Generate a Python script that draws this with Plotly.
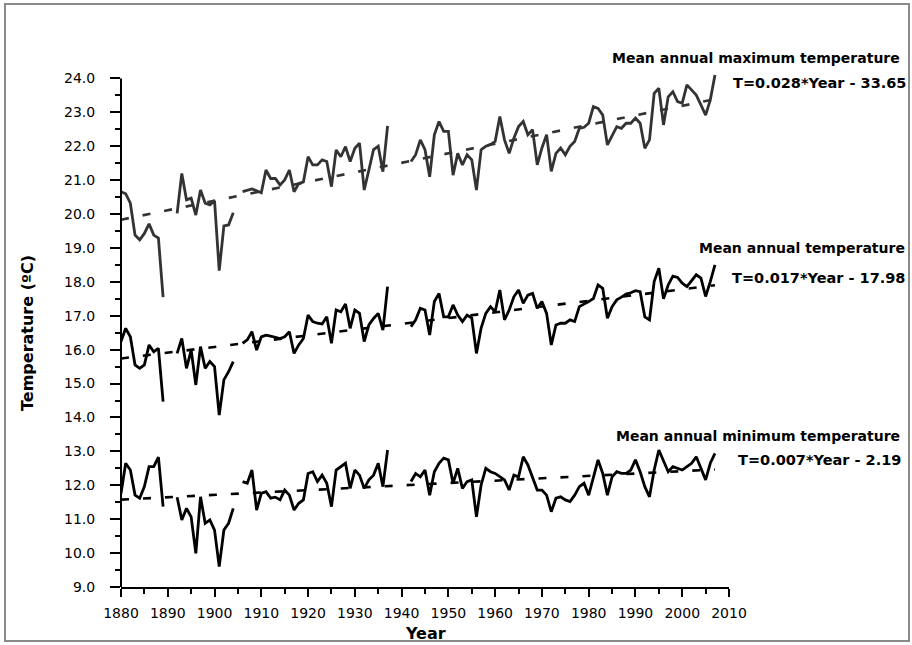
import plotly.graph_objects as go

# ---- data -------------------------------------------------------------
years = list(range(1880, 2008))

t_max = [
    20.66, 20.60, 20.32, 19.38, 19.24, 19.43, 19.71, 19.38, 19.29, 17.55,  # 1880-1889
    None, None, 20.02, 21.20, 20.42, 20.47, 19.97, 20.71, 20.32, 20.27,    # 1890-1899
    20.39, 18.33, 19.65, 19.68, 20.04, None, 20.66, 20.71, 20.74, 20.69,   # 1900-1909
    20.63, 21.30, 21.05, 21.05, 20.86, 21.01, 21.30, 20.66, 20.90, 20.95,  # 1910-1919
    21.69, 21.45, 21.45, 21.60, 21.55, 20.81, 21.89, 21.69, 21.99, 21.55,  # 1920-1929
    21.94, 22.09, 20.71, 21.30, 21.90, 22.00, 21.25, 22.60, None, None,    # 1930-1939
    None, None, 21.55, 21.75, 22.19, 21.90, 21.10, 22.34, 22.73, 22.44,    # 1940-1949
    22.44, 21.15, 21.79, 21.45, 21.75, 21.60, 20.71, 21.90, 22.00, 22.05,  # 1950-1959
    22.14, 22.88, 22.19, 21.79, 22.24, 22.58, 22.73, 22.34, 22.49, 21.45,  # 1960-1969
    21.95, 22.34, 21.26, 21.79, 21.95, 21.75, 22.00, 22.14, 22.53, 22.56,  # 1970-1979
    22.68, 23.17, 23.12, 22.92, 22.04, 22.29, 22.58, 22.53, 22.68, 22.68,  # 1980-1989
    22.83, 22.68, 21.94, 22.19, 23.56, 23.71, 22.63, 23.46, 23.61, 23.32,  # 1990-1999
    23.27, 23.81, 23.66, 23.51, 23.22, 22.92, 23.37, 24.10,                # 2000-2007
]

t_mean = [
    16.24, 16.63, 16.38, 15.55, 15.45, 15.55, 16.14, 15.94, 16.04, 14.47,
    None, None, 15.89, 16.33, 15.45, 15.99, 14.96, 16.09, 15.45, 15.65,
    15.50, 14.07, 15.11, 15.35, 15.65, None, 16.19, 16.29, 16.53, 15.99,
    16.38, 16.43, 16.40, 16.36, 16.33, 16.38, 16.53, 15.89, 16.14, 16.33,
    17.02, 16.83, 16.78, 16.76, 16.97, 16.19, 17.17, 17.12, 17.35, 16.63,
    17.17, 17.07, 16.24, 16.73, 16.92, 17.07, 16.58, 17.86, None, None,
    None, None, 16.68, 16.88, 17.22, 17.17, 16.43, 17.42, 17.66, 16.97,
    16.97, 17.32, 17.02, 16.83, 17.02, 16.93, 15.89, 16.64, 17.07, 17.27,
    17.12, 17.76, 16.88, 17.17, 17.56, 17.76, 17.37, 17.61, 17.66, 17.22,
    17.42, 17.07, 16.14, 16.73, 16.78, 16.78, 16.88, 16.83, 17.27, 17.34,
    17.42, 17.51, 17.91, 17.81, 16.93, 17.27, 17.47, 17.55, 17.64, 17.68,
    17.74, 17.71, 16.97, 16.88, 18.01, 18.40, 17.50, 17.91, 18.17, 18.13,
    17.96, 17.86, 18.04, 18.21, 18.11, 17.57, 18.01, 18.50,
]

t_min = [
    11.76, 12.65, 12.45, 11.71, 11.62, 11.96, 12.55, 12.55, 12.83, 11.37,
    None, None, 11.65, 10.98, 11.32, 11.07, 9.99, 11.66, 10.88, 10.98,
    10.68, 9.60, 10.68, 10.88, 11.32, None, 12.11, 12.06, 12.45, 11.27,
    11.76, 11.81, 11.62, 11.65, 11.57, 11.86, 11.71, 11.27, 11.47, 11.57,
    12.35, 12.40, 12.11, 12.30, 12.06, 11.37, 12.45, 12.55, 12.65, 11.91,
    12.45, 12.30, 11.91, 12.16, 12.30, 12.65, 11.96, 13.04, None, None,
    None, None, 12.11, 12.35, 12.25, 12.45, 11.71, 12.40, 12.65, 12.80,
    12.75, 12.06, 12.50, 11.91, 12.11, 12.16, 11.07, 12.01, 12.50, 12.40,
    12.35, 12.25, 12.16, 11.86, 12.30, 12.25, 12.84, 12.60, 12.25, 11.86,
    11.86, 11.71, 11.22, 11.62, 11.66, 11.57, 11.52, 11.71, 11.96, 12.06,
    11.71, 12.25, 12.75, 12.35, 11.71, 12.25, 12.40, 12.35, 12.35, 12.45,
    12.75, 12.40, 11.96, 11.66, 12.45, 13.04, 12.70, 12.40, 12.55, 12.50,
    12.45, 12.55, 12.65, 12.84, 12.50, 12.16, 12.65, 12.94,
]

series_names = ["Mean annual maximum temperature",
                "Mean annual temperature",
                "Mean annual minimum temperature"]
trend_slopes = [0.028, 0.017, 0.007]
trend_labels = ["T=0.028*Year - 33.65",
                "T=0.017*Year - 17.98",
                "T=0.007*Year - 2.19"]

x_ticks = list(range(1880, 2011, 10))
y_ticks = list(range(9, 25))

# ---- geometry of the plotting area (pixels) ---------------------------
W, H = 912, 645
L, R = 121, 729          # x axis extent
B = 587                  # y of the x axis
Y_LO, Y_HI = 9.0, 24.25
PX_PER_DEG = 33.9
T = B - (Y_HI - Y_LO) * PX_PER_DEG


def px(xp):
    return (xp - L) / (R - L)


def py(yp):
    return (B - yp) / (B - T)


FONT = "DejaVu Sans"
colors = ["#333333", "#000000", "#000000"]

fig = go.Figure()

for vals, slope, col, name in zip([t_max, t_mean, t_min], trend_slopes, colors, series_names):
    fig.add_trace(go.Scatter(
        x=years, y=vals, mode="lines", name=name,
        line=dict(color=col, width=2.8), connectgaps=False,
        showlegend=False, hoverinfo="skip",
    ))
    # linear trend with the stated slope, passing through the series mean
    pts = [(yr, v) for yr, v in zip(years, vals) if v is not None]
    mx = sum(p[0] for p in pts) / len(pts)
    my = sum(p[1] for p in pts) / len(pts)
    x_tr = [years[0], years[-1]]
    y_tr = [my + slope * (xx - mx) for xx in x_tr]
    fig.add_trace(go.Scatter(
        x=x_tr, y=y_tr, mode="lines",
        line=dict(color=col, width=2.6, dash="8px,14px"),
        showlegend=False, hoverinfo="skip",
    ))

# series captions and trend equations
caption_pos = [(902, 58, 908, 83), (907, 248, 907, 278), (902, 436, 903, 460)]
for name, eq, (tx, ty, ex, ey) in zip(series_names, trend_labels, caption_pos):
    fig.add_annotation(x=px(tx), y=py(ty), xref="paper", yref="paper",
                       text=name, showarrow=False, xanchor="right", yanchor="middle",
                       font=dict(family=FONT, size=14, color="black", weight="bold"))
    fig.add_annotation(x=px(ex), y=py(ey), xref="paper", yref="paper",
                       text=eq, showarrow=False, xanchor="right", yanchor="middle",
                       font=dict(family=FONT, size=14.5, color="black", weight="bold"))

# axis titles
fig.add_annotation(x=px(425), y=py(633), xref="paper", yref="paper", text="Year",
                   showarrow=False, xanchor="center", yanchor="middle",
                   font=dict(family=FONT, size=16, color="black", weight="bold"))
fig.add_annotation(x=px(28), y=py(333), xref="paper", yref="paper",
                   text="Temperature (ºC)", textangle=-90,
                   showarrow=False, xanchor="center", yanchor="middle",
                   font=dict(family=FONT, size=16, color="black", weight="bold"))

# y axis line stops at the top tick
fig.add_shape(type="line", xref="paper", yref="y", x0=0, x1=0, y0=Y_LO, y1=24.0,
              line=dict(color="black", width=2))
# frame around the whole figure
fig.add_shape(type="rect", xref="paper", yref="paper",
              x0=px(5), x1=px(909), y0=py(641), y1=py(4),
              line=dict(color="#8a8a8a", width=2), fillcolor="rgba(0,0,0,0)")

fig.update_layout(
    width=W, height=H,
    margin=dict(l=L, r=W - R, t=T, b=H - B, pad=0),
    paper_bgcolor="white", plot_bgcolor="white",
    font=dict(family=FONT, color="black"),
    xaxis=dict(
        range=[1880, 2010], tickvals=x_ticks, ticks="outside", ticklen=8, tickwidth=2,
        tickcolor="black", showline=True, linecolor="black", linewidth=2,
        showgrid=False, zeroline=False, tickfont=dict(size=14, color="black"),
        minor=dict(dtick=5, tick0=1880, ticks="outside", ticklen=5, tickwidth=2,
                   tickcolor="black", showgrid=False),
        ticklabelstandoff=4,
    ),
    yaxis=dict(
        range=[Y_LO, Y_HI], tickvals=y_ticks, tickformat=".1f", ticks="outside",
        ticklen=10, tickwidth=2, tickcolor="black", showline=False,
        showgrid=False, zeroline=False, tickfont=dict(size=14, color="black"),
        minor=dict(dtick=0.5, tick0=9, ticks="outside", ticklen=5, tickwidth=2,
                   tickcolor="black", showgrid=False),
        ticklabelstandoff=12,
    ),
)

fig.write_html("out.html")
